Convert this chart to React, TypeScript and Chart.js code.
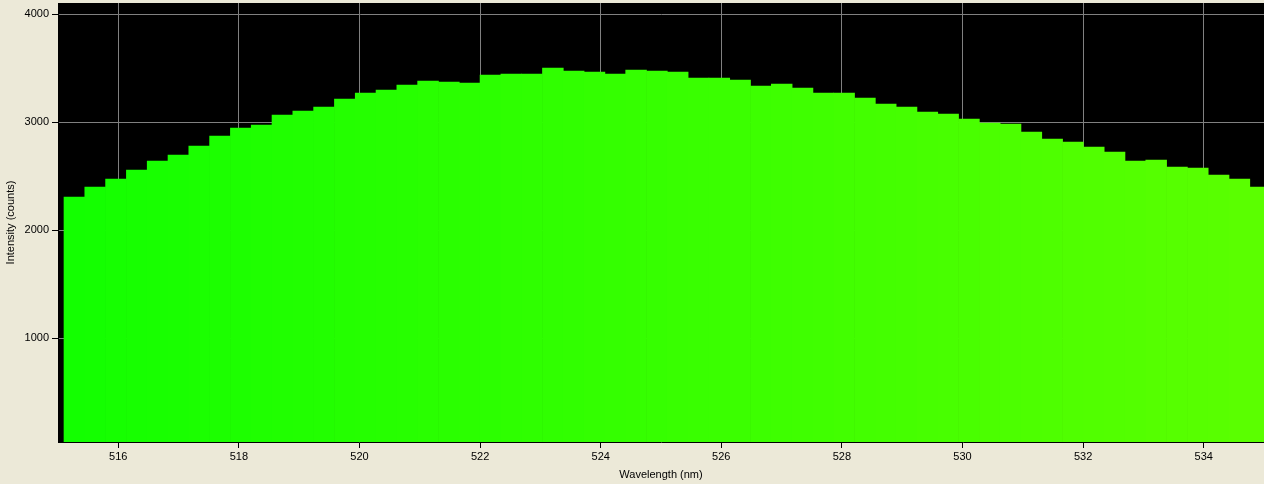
import React, { useEffect, useRef } from "react";
import { Chart, registerables } from "chart.js";

Chart.register(...registerables);

// Bar centre wavelengths (nm)
const wavelengths: number[] = [
  515.272, 515.617, 515.962, 516.307, 516.652, 516.997, 517.342, 517.687, 518.032, 518.377,
  518.722, 519.067, 519.412, 519.757, 520.102, 520.447, 520.792, 521.137, 521.482, 521.827,
  522.172, 522.517, 522.862, 523.207, 523.552, 523.897, 524.242, 524.587, 524.932, 525.277,
  525.622, 525.967, 526.312, 526.657, 527.002, 527.347, 527.692, 528.037, 528.382, 528.727,
  529.072, 529.417, 529.762, 530.107, 530.452, 530.797, 531.142, 531.487, 531.832, 532.177,
  532.522, 532.867, 533.212, 533.557, 533.902, 534.247, 534.592, 534.937,
];

// Intensity (counts)
const intensity: number[] = [
  2306, 2398, 2472, 2556, 2639, 2694, 2778, 2870, 2944, 2972,
  3065, 3102, 3139, 3213, 3269, 3296, 3343, 3380, 3370, 3361,
  3435, 3444, 3444, 3500, 3472, 3463, 3444, 3481, 3472, 3463,
  3407, 3407, 3389, 3333, 3352, 3315, 3269, 3269, 3222, 3167,
  3139, 3093, 3074, 3028, 2991, 2981, 2907, 2843, 2815, 2769,
  2722, 2639, 2648, 2583, 2574, 2509, 2472, 2398,
];

const xTicks: number[] = [516, 518, 520, 522, 524, 526, 528, 530, 532, 534];
const yTicks: number[] = [1000, 2000, 3000, 4000];

const xMin = 515;
const xMax = 535;
const yMin = 37;
const yMax = 4102;

function wlColor(wl: number): string {
  const r = Math.round(Math.max(0, Math.min(1, (wl - 510) / 70)) * 255);
  return `rgb(${r},255,0)`;
}

const FONT = "'Liberation Sans', Arial, sans-serif";

export default function App() {
  const ref = useRef<HTMLCanvasElement | null>(null);

  useEffect(() => {
    if (!ref.current) return;
    const bgPlugin = {
      id: "bgPlugin",
      beforeDraw(chart: any) {
        const { ctx, chartArea, width, height } = chart;
        ctx.save();
        ctx.fillStyle = "#ECE9D8";
        ctx.fillRect(0, 0, width, height);
        ctx.fillStyle = "#000000";
        ctx.fillRect(
          chartArea.left,
          chartArea.top,
          chartArea.right - chartArea.left,
          chartArea.bottom - chartArea.top
        );
        ctx.restore();
      },
    };

    const chart = new Chart(ref.current, {
      type: "bar",
      data: {
        datasets: [
          {
            label: "Intensity",
            data: wavelengths.map((w, i) => ({ x: w, y: intensity[i] })),
            backgroundColor: wavelengths.map(wlColor),
            borderWidth: 0,
            barPercentage: 1,
            categoryPercentage: 1,
          },
        ],
      },
      options: {
        animation: false,
        responsive: false,
        devicePixelRatio: 1,
        layout: { padding: { top: 3, left: 0, right: 0, bottom: 0 } },
        plugins: {
          legend: { display: false },
          tooltip: { enabled: false },
        },
        scales: {
          x: {
            type: "linear",
            min: xMin,
            max: xMax,
            offset: false,
            afterBuildTicks: (scale: any) => {
              scale.ticks = xTicks.map((v) => ({ value: v }));
            },
            afterFit: (scale: any) => {
              scale.height = 42;
              scale.paddingLeft = 0;
              scale.paddingRight = 0;
            },
            grid: {
              offset: false,
              color: "#808080",
              tickColor: "#000000",
              tickLength: 6,
              lineWidth: 1,
            },
            border: { color: "#000000", width: 1, z: 1 },
            ticks: {
              color: "#000000",
              font: { family: FONT, size: 11 },
              padding: 2,
              maxRotation: 0,
              autoSkip: false,
              callback: (v: any) => String(v),
            },
            title: {
              display: true,
              text: "Wavelength (nm)",
              color: "#000000",
              font: { family: FONT, size: 11 },
              padding: { top: 4, bottom: 2 },
            },
          },
          y: {
            type: "linear",
            min: yMin,
            max: yMax,
            afterBuildTicks: (scale: any) => {
              scale.ticks = yTicks.map((v) => ({ value: v }));
            },
            afterFit: (scale: any) => {
              scale.width = 58;
              scale.paddingTop = 0;
              scale.paddingBottom = 0;
            },
            grid: {
              color: "#808080",
              tickColor: "#000000",
              tickLength: 6,
              lineWidth: 1,
            },
            border: { color: "#000000", width: 1 },
            ticks: {
              color: "#000000",
              font: { family: FONT, size: 11 },
              padding: 3,
              autoSkip: false,
              callback: (v: any) => String(v),
            },
            title: {
              display: true,
              text: "Intensity (counts)",
              color: "#000000",
              font: { family: FONT, size: 11 },
              padding: { top: 4, bottom: 4 },
            },
          },
        },
      },
      plugins: [bgPlugin],
    });
    return () => chart.destroy();
  }, []);

  return (
    <div
      style={{
        position: "fixed",
        left: 0,
        top: 0,
        width: 1264,
        height: 484,
        background: "#ECE9D8",
      }}
    >
      <canvas ref={ref} width={1264} height={484} style={{ display: "block" }} />
    </div>
  );
}
